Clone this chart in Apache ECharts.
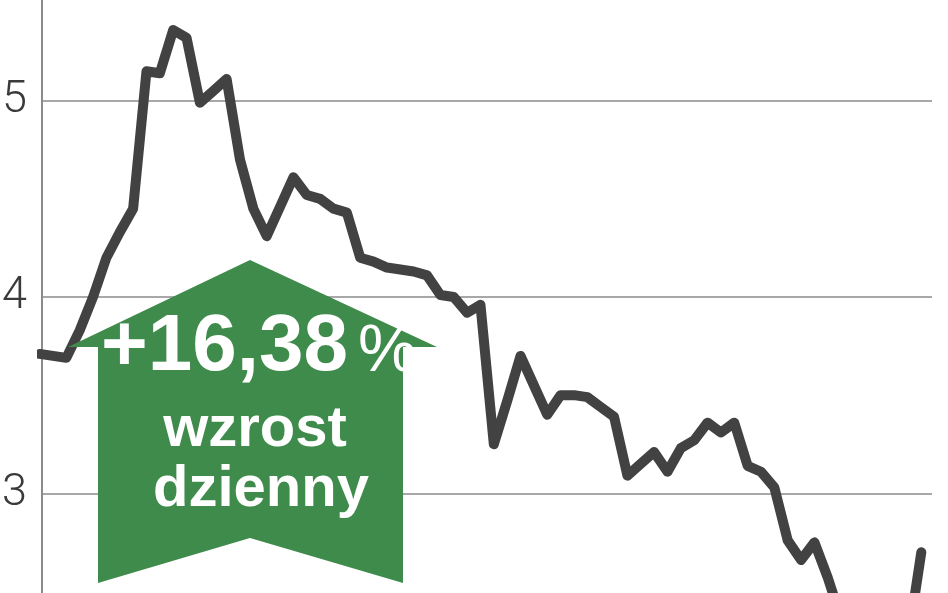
<!DOCTYPE html>
<html>
<head>
<meta charset="utf-8">
<script src="https://cdn.jsdelivr.net/npm/echarts@6/dist/echarts.min.js"></script>
<style>
html,body{margin:0;padding:0;background:#fff;overflow:hidden;width:948px;height:593px;}
#chart{position:absolute;left:0;top:-96px;width:948px;height:786px;}
</style>
</head>
<body>
<div id="chart"></div>
<script>
// Daily closing prices (session order); the first session lies just left of the axis and is clipped
const prices = [
  3.71, 3.70, 3.69, 3.83, 4.00, 4.20, 4.33, 4.45, 5.15, 5.14,
  5.36, 5.32, 4.99, 5.05, 5.11, 4.70, 4.45, 4.31, 4.46, 4.61,
  4.52, 4.50, 4.45, 4.43, 4.20, 4.18, 4.15, 4.14, 4.13, 4.11,
  4.01, 4.00, 3.92, 3.96, 3.25, 3.47, 3.70, 3.55, 3.40, 3.50,
  3.50, 3.49, 3.44, 3.39, 3.09, 3.15, 3.21, 3.11, 3.23, 3.27,
  3.36, 3.31, 3.36, 3.14, 3.11, 3.03, 2.76, 2.66, 2.75, 2.57,
  2.36, 2.30, 2.28, 2.30, 2.27, 2.25, 2.70
];
const yTicks = [2, 3, 4, 5, 6];
const badgeValue = '+16,38';
const badgePct = '%';
const badgeLines = ['wzrost', 'dzienny'];

const seriesData = prices.map((v, i) => [i, v]);

const chart = echarts.init(document.getElementById('chart'), null, {renderer: 'canvas'});
const OFF = 96; // chart canvas is shifted up by this many px
chart.setOption({
  animation: false,
  backgroundColor: '#ffffff',
  grid: {left: 42, right: 16, top: 0.4, bottom: 0.4, containLabel: false, outerBoundsMode: 'none'},
  xAxis: {
    type: 'value',
    min: 0.18,
    max: 66.8,
    show: false
  },
  yAxis: {
    type: 'value',
    min: yTicks[0],
    max: yTicks[yTicks.length - 1],
    interval: 1,
    axisLine: {show: true, lineStyle: {color: '#8a8a8a', width: 2}},
    axisTick: {show: false},
    axisLabel: {
      margin: 15,
      color: '#3a3a3a',
      fontSize: 45,
      fontFamily: 'Roboto',
      fontWeight: 300
    },
    splitLine: {show: true, lineStyle: {color: '#a8a8a8', width: 2}}
  },
  series: [{
    type: 'line',
    data: seriesData,
    showSymbol: false,
    symbol: 'none',
    clip: true,
    z: 3,
    lineStyle: {color: '#424242', width: 10, cap: 'round', join: 'round'}
  }],
  graphic: [
    {
      type: 'polygon',
      z: 100,
      shape: {points: [[250,260],[437,347],[403,347],[403,583],[250,538],[98,583],[98,347],[68,347]].map(p => [p[0], p[1] + OFF])},
      style: {fill: '#3f8b4b'}
    },
    {
      type: 'text', z: 101, x: 101, y: 348 + OFF,
      style: {text: badgeValue, fill: '#ffffff', font: 'bold 80px "Liberation Sans", Arial, sans-serif', textAlign: 'left', textVerticalAlign: 'middle'}
    },
    {
      type: 'text', z: 101, x: 358, y: 353 + OFF,
      style: {text: badgePct, fill: '#ffffff', font: 'normal 66px "Liberation Sans Narrow", "Liberation Sans", sans-serif', textAlign: 'left', textVerticalAlign: 'middle'}
    },
    {
      type: 'text', z: 101, x: 255, y: 430 + OFF,
      style: {text: badgeLines[0], fill: '#ffffff', font: 'bold 58px "Liberation Sans", Arial, sans-serif', textAlign: 'center', textVerticalAlign: 'middle'}
    },
    {
      type: 'text', z: 101, x: 261, y: 490 + OFF,
      style: {text: badgeLines[1], fill: '#ffffff', font: 'bold 58px "Liberation Sans", Arial, sans-serif', textAlign: 'center', textVerticalAlign: 'middle'}
    }
  ]
});
</script>
</body>
</html>
